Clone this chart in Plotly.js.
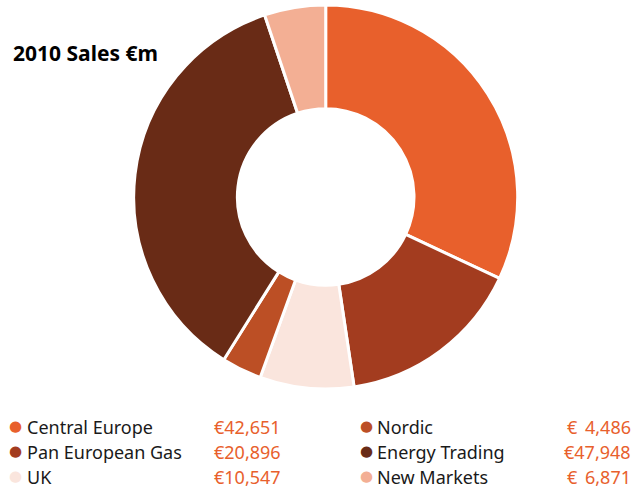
<!DOCTYPE html>
<html>
<head>
<meta charset="utf-8">
<script src="https://cdn.plot.ly/plotly-3.0.1.min.js"></script>
<style>html,body{margin:0;padding:0;background:#fff;}#chart{width:636px;height:488px;}</style>
</head>
<body>
<div id="chart"></div>
<script>
const categories = ["Central Europe", "Pan European Gas", "UK", "Nordic", "Energy Trading", "New Markets"];
const sales = [42651, 20896, 10547, 4486, 47948, 6871];
const valueLabels = ["42,651", "20,896", "10,547", "4,486", "47,948", "6,871"];
const colors = ["#E8602C", "#A33C1F", "#FAE5DD", "#BC4F25", "#692B16", "#F3AF94"];
const legendOrder = [0, 3, 1, 4, 2, 5];

const FONT = "Noto Sans, Open Sans, sans-serif";
const data = [{
  type: "pie",
  labels: categories,
  values: sales,
  sort: false,
  direction: "clockwise",
  rotation: 0,
  hole: 0.46,
  textinfo: "none",
  hoverinfo: "label+value",
  marker: {colors: colors, line: {color: "#ffffff", width: 3}},
  domain: {x: [0.2102, 0.814], y: [0.2029, 0.9898]},
  showlegend: false
}];

const annotations = [{
  text: "<b>2010 Sales €m</b>",
  xref: "paper", yref: "paper", x: 11/636, y: 1 - 53/488,
  xanchor: "left", yanchor: "middle", showarrow: false,
  font: {family: FONT, size: 21, color: "#000"}
}];

const rowsY = [427, 452, 477];
const colDot = [15, 366];
const colName = [25, 375];
const colEuro = [216, 565];
const colNumEnd = [283, 633];
legendOrder.forEach((idx, k) => {
  const col = k % 2, row = Math.floor(k / 2);
  const y = 1 - rowsY[row] / 488;
  annotations.push({text: "●", xref: "paper", yref: "paper", x: colDot[col]/636, y: y + 1/488,
    xanchor: "center", yanchor: "middle", showarrow: false,
    font: {family: "DejaVu Sans, sans-serif", size: 15, color: colors[idx]}});
  annotations.push({text: categories[idx], xref: "paper", yref: "paper", x: colName[col]/636, y: y,
    xanchor: "left", yanchor: "middle", showarrow: false,
    font: {family: FONT, size: 18, color: "#1a1a1a"}});
  const full = valueLabels[idx].length >= 6;
  if (full) {
    annotations.push({text: "€" + valueLabels[idx], xref: "paper", yref: "paper", x: colNumEnd[col]/636, y: y,
      xanchor: "right", yanchor: "middle", showarrow: false,
      font: {family: FONT, size: 18, color: "#E8602C"}});
  } else {
    annotations.push({text: "€", xref: "paper", yref: "paper", x: colEuro[col]/636, y: y,
      xanchor: "left", yanchor: "middle", showarrow: false,
      font: {family: FONT, size: 18, color: "#E8602C"}});
    annotations.push({text: valueLabels[idx], xref: "paper", yref: "paper", x: colNumEnd[col]/636, y: y,
      xanchor: "right", yanchor: "middle", showarrow: false,
      font: {family: FONT, size: 18, color: "#E8602C"}});
  }
});

const layout = {
  width: 636, height: 488,
  margin: {l: 0, r: 0, t: 0, b: 0},
  paper_bgcolor: "#ffffff",
  plot_bgcolor: "#ffffff",
  annotations: annotations,
  showlegend: false
};
Plotly.newPlot("chart", data, layout, {displayModeBar: false, staticPlot: true});
</script>
</body>
</html>
